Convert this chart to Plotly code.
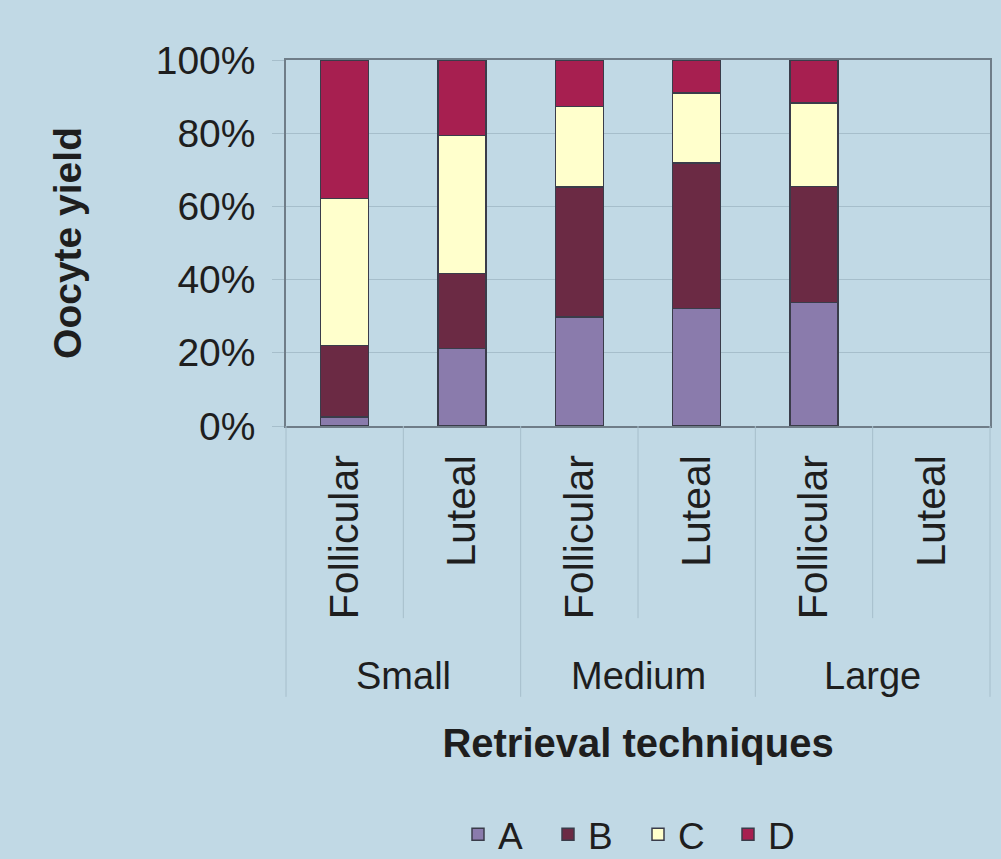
import plotly.graph_objects as go

# ---- data (percent of oocyte yield) ----
size_groups = ["Small", "Small", "Medium", "Medium", "Large", "Large"]
phases = ["Follicular", "Luteal", "Follicular", "Luteal", "Follicular", "Luteal"]
group_names = ["Small", "Medium", "Large"]
series_names = ["A", "B", "C", "D"]
A = [2.5, 21.2, 29.8, 32.1, 33.7, None]
B = [19.5, 20.4, 35.5, 39.7, 31.8, None]
C = [40.1, 37.8, 22.0, 19.2, 22.8, None]
D = [37.9, 20.6, 12.7, 9.0, 11.7, None]
y_ticks = [0, 20, 40, 60, 80, 100]
colors = ["#8A7BAC", "#6B2A44", "#FFFFCC", "#A71F50"]

BG = "#C1D9E5"
GRID = "#A6BECB"
AXIS = "#6F7D88"
FONT = "Liberation Sans, Arial, sans-serif"

xpos = list(range(len(phases)))

fig = go.Figure()
for name, vals, col in zip(series_names, [A, B, C, D], colors):
    fig.add_trace(go.Bar(
        x=xpos, y=vals, name=name,
        marker=dict(color=col, line=dict(color="#3A3C4A", width=1.5)),
        width=0.41,
    ))

shapes = []
# minor dividers between phases
for xv in [0.5, 2.5, 4.5]:
    shapes.append(dict(type="line", xref="x", yref="paper", x0=xv, x1=xv,
                       y0=0, y1=-0.525, line=dict(color=GRID, width=1)))
# major dividers between size groups
for xv in [1.5, 3.5]:
    shapes.append(dict(type="line", xref="x", yref="paper", x0=xv, x1=xv,
                       y0=0, y1=-0.74, line=dict(color=GRID, width=1)))
for xv in [0, 1]:
    shapes.append(dict(type="line", xref="paper", yref="paper", x0=xv, x1=xv,
                       y0=0, y1=-0.74, line=dict(color=GRID, width=1)))

annotations = []
for gi, g in enumerate(group_names):
    annotations.append(dict(text=g, xref="x", yref="paper", x=gi * 2 + 0.5, y=-0.683,
                            showarrow=False, xanchor="center", yanchor="middle",
                            font=dict(family=FONT, size=38, color="#1E1E1E")))

fig.update_layout(
    barmode="stack",
    width=1001, height=859,
    margin=dict(l=286, r=11, t=60, b=433, autoexpand=False),
    paper_bgcolor=BG, plot_bgcolor=BG,
    font=dict(family=FONT, color="#1E1E1E"),
    shapes=shapes,
    annotations=annotations,
    showlegend=True,
    legend=dict(orientation="h", x=0.5, xanchor="center", y=-1.117, yanchor="middle",
                font=dict(family=FONT, size=37, color="#1E1E1E"),
                bgcolor="rgba(0,0,0,0)", traceorder="normal", entrywidth=45),
    xaxis=dict(
        range=[-0.5, 5.5], tickmode="array", tickvals=xpos, ticktext=phases,
        tickangle=-90, tickfont=dict(family=FONT, size=41, color="#1E1E1E"),
        showgrid=False, zeroline=False, ticks="", ticklabelstandoff=11,
        showline=True, linecolor=AXIS, linewidth=1.5, mirror=True,
        title=dict(text="<b>Retrieval techniques</b>", standoff=111,
                   font=dict(family=FONT, size=40, color="#1E1E1E")),
    ),
    yaxis=dict(
        range=[0, 100], tickmode="array", tickvals=y_ticks,
        ticktext=[f"{v}%" for v in y_ticks],
        tickfont=dict(family=FONT, size=39, color="#1E1E1E"),
        showgrid=True, gridcolor=GRID, gridwidth=1, zeroline=False,
        ticks="outside", ticklen=12, tickcolor=GRID, ticklabelstandoff=9,
        showline=True, linecolor=AXIS, linewidth=1.5, mirror=True,
        title=dict(text="<b>Oocyte yield</b>", standoff=62,
                   font=dict(family=FONT, size=39, color="#1E1E1E")),
    ),
)

fig.write_html("out.html")
